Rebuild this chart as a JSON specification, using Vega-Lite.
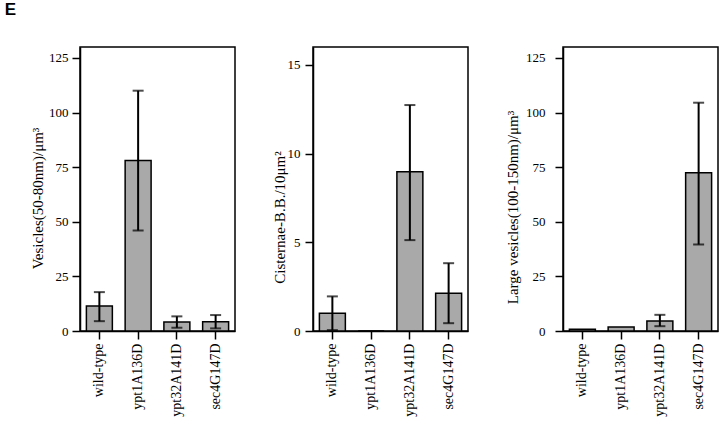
{
  "$schema": "https://vega.github.io/schema/vega-lite/v6.json",
  "padding": {"left": 4, "top": 1, "right": 2, "bottom": 2},
  "title": {"text": "E", "anchor": "start", "font": "Liberation Sans", "fontSize": 17, "fontWeight": "bold", "dx": -25, "offset": 27, "color": "black"},
  "spacing": 35,
  "datasets": {
    "d": [
      {"panel": 1, "genotype": "wild-type", "value": 11.5, "lo": 4.5, "hi": 17.8},
      {"panel": 1, "genotype": "ypt1A136D", "value": 78, "lo": 46, "hi": 110},
      {"panel": 1, "genotype": "ypt32A141D", "value": 4.1, "lo": 1.5, "hi": 6.7},
      {"panel": 1, "genotype": "sec4G147D", "value": 4.2, "lo": 1.2, "hi": 7.3},
      {"panel": 2, "genotype": "wild-type", "value": 1.0, "lo": 0.05, "hi": 1.95},
      {"panel": 2, "genotype": "ypt1A136D", "value": 0, "lo": null, "hi": null},
      {"panel": 2, "genotype": "ypt32A141D", "value": 8.97, "lo": 5.12, "hi": 12.73},
      {"panel": 2, "genotype": "sec4G147D", "value": 2.13, "lo": 0.44, "hi": 3.82},
      {"panel": 3, "genotype": "wild-type", "value": 0.8, "lo": null, "hi": null},
      {"panel": 3, "genotype": "ypt1A136D", "value": 1.8, "lo": null, "hi": null},
      {"panel": 3, "genotype": "ypt32A141D", "value": 4.6, "lo": 2.2, "hi": 7.4},
      {"panel": 3, "genotype": "sec4G147D", "value": 72.4, "lo": 39.6, "hi": 104.5}
    ]
  },
  "config": {
    "view": {"stroke": "black", "strokeWidth": 1.5},
    "axis": {"domainColor": "black", "domainWidth": 1.5, "tickColor": "black", "tickWidth": 1.5, "tickSize": 8, "labelFont": "Liberation Serif", "titleFont": "Liberation Serif", "labelColor": "black", "titleColor": "black", "grid": false, "titleFontWeight": "normal"},
    "axisY": {"labelFontSize": 13, "titleFontSize": 15},
    "axisX": {"labelFontSize": 14, "labelAngle": -90, "labelPadding": 4, "title": null}
  },
  "hconcat": [
    {
      "width": 155, "height": 284,
      "data": {"name": "d"},
      "transform": [{"filter": "datum.panel === 1"}],
      "encoding": {"x": {"field": "genotype", "type": "nominal", "sort": null, "scale": {"paddingInner": 0.33, "paddingOuter": 0.165}, "axis": {"title": null}}},
      "layer": [
        {"mark": {"type": "bar", "fill": "#a9a9a9", "stroke": "black", "strokeWidth": 1.5},
         "encoding": {"y": {"field": "value", "type": "quantitative", "scale": {"domain": [0, 125]}, "axis": {"values": [0, 25, 50, 75, 100, 125], "title": "Vesicles(50-80nm)/μm³", "labelPadding": 4, "titlePadding": 3, "titleY": 151}}}},
        {"mark": {"type": "rule", "strokeWidth": 2, "color": "black"},
         "encoding": {"y": {"field": "lo", "type": "quantitative"}, "y2": {"field": "hi"}}},
        {"mark": {"type": "tick", "thickness": 2, "size": 11, "color": "black"},
         "encoding": {"y": {"field": "lo", "type": "quantitative"}}},
        {"mark": {"type": "tick", "thickness": 2, "size": 11, "color": "black"},
         "encoding": {"y": {"field": "hi", "type": "quantitative"}}}
      ]
    },
    {
      "width": 155, "height": 284,
      "data": {"name": "d"},
      "transform": [{"filter": "datum.panel === 2"}],
      "encoding": {"x": {"field": "genotype", "type": "nominal", "sort": null, "scale": {"paddingInner": 0.33, "paddingOuter": 0.165}, "axis": {"title": null}}},
      "layer": [
        {"mark": {"type": "bar", "fill": "#a9a9a9", "stroke": "black", "strokeWidth": 1.5},
         "encoding": {"y": {"field": "value", "type": "quantitative", "scale": {"domain": [0, 15]}, "axis": {"values": [0, 5, 10, 15], "title": "Cisternae-B.B./10μm²", "labelPadding": 5, "titlePadding": 0, "titleY": 170}}}},
        {"mark": {"type": "rule", "strokeWidth": 2, "color": "black"},
         "encoding": {"y": {"field": "lo", "type": "quantitative"}, "y2": {"field": "hi"}}},
        {"mark": {"type": "tick", "thickness": 2, "size": 11, "color": "black"},
         "encoding": {"y": {"field": "lo", "type": "quantitative"}}},
        {"mark": {"type": "tick", "thickness": 2, "size": 11, "color": "black"},
         "encoding": {"y": {"field": "hi", "type": "quantitative"}}}
      ]
    },
    {
      "width": 155, "height": 284,
      "data": {"name": "d"},
      "transform": [{"filter": "datum.panel === 3"}],
      "encoding": {"x": {"field": "genotype", "type": "nominal", "sort": null, "scale": {"paddingInner": 0.33, "paddingOuter": 0.165}, "axis": {"title": null}}},
      "layer": [
        {"mark": {"type": "bar", "fill": "#a9a9a9", "stroke": "black", "strokeWidth": 1.5},
         "encoding": {"y": {"field": "value", "type": "quantitative", "scale": {"domain": [0, 125]}, "axis": {"values": [0, 25, 50, 75, 100, 125], "title": "Large vesicles(100-150nm)/μm³", "labelPadding": 10, "titlePadding": 5.5, "titleY": 160}}}},
        {"mark": {"type": "rule", "strokeWidth": 2, "color": "black"},
         "encoding": {"y": {"field": "lo", "type": "quantitative"}, "y2": {"field": "hi"}}},
        {"mark": {"type": "tick", "thickness": 2, "size": 11, "color": "black"},
         "encoding": {"y": {"field": "lo", "type": "quantitative"}}},
        {"mark": {"type": "tick", "thickness": 2, "size": 11, "color": "black"},
         "encoding": {"y": {"field": "hi", "type": "quantitative"}}}
      ]
    }
  ]
}
